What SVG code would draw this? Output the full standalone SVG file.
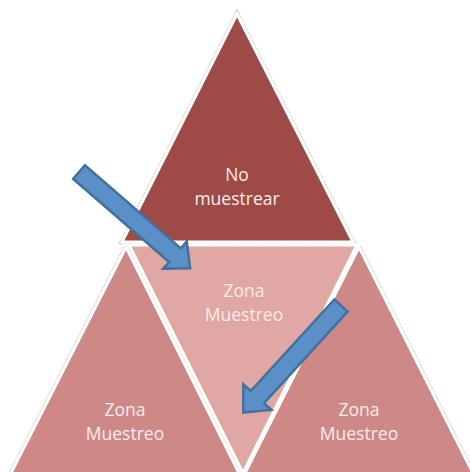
<svg xmlns="http://www.w3.org/2000/svg" width="470" height="472" viewBox="0 0 470 472">
<defs>
<style>
.tri{stroke:#ffffff;stroke-width:3;stroke-linejoin:miter}
.halo{fill:none;stroke:#d0d0d0;stroke-width:5;stroke-dasharray:2 1}
.top{fill:#9e4b47}
.side{fill:#ce8886}
.mid{fill:#e0a7a5}
.lbl{font-family:"Open Sans","Noto Sans",sans-serif;font-size:17.5px;fill:#f8ecec;text-anchor:middle}
.arrow{fill:#5b8fc8;stroke:#41719c;stroke-width:2.5;stroke-linejoin:miter}
</style>
</defs>
<rect width="470" height="472" fill="#ffffff"/>
<g id="outline">
<polygon class="halo" points="237,14 353,242 122,242"/>
<polygon class="halo" points="126,247 240,475 10,475"/>
<polygon class="halo" points="359,247 474,475 244,475"/>
</g>
<g id="node-top">
<polygon class="tri top" points="237,14 353,242 122,242"/>
<text class="lbl" x="237" y="181">No</text>
<text class="lbl" x="237" y="205">muestrear</text>
</g>
<g id="node-left">
<polygon class="tri side" points="126,247 240,475 10,475"/>
<text class="lbl" x="125" y="416">Zona</text>
<text class="lbl" x="125" y="440">Muestreo</text>
</g>
<g id="node-right">
<polygon class="tri side" points="359,247 474,475 244,475"/>
<text class="lbl" x="359" y="416">Zona</text>
<text class="lbl" x="359" y="440">Muestreo</text>
</g>
<g id="node-center">
<polygon class="tri mid" points="129,245 357,245 243,473"/>
<text class="lbl" x="244" y="297">Zona</text>
<text class="lbl" x="244" y="321">Muestreo</text>
</g>
<g id="connectors">
<polygon class="arrow" transform="translate(79,172) rotate(40.9)" points="0,-9 127,-9 127,-18 147,0 127,18 127,9 0,9"/>
<polygon class="arrow" transform="translate(341,305.5) rotate(132.4)" points="0,-9 124,-9 124,-19 145,0 124,19 124,9 0,9"/>
</g>
</svg>
